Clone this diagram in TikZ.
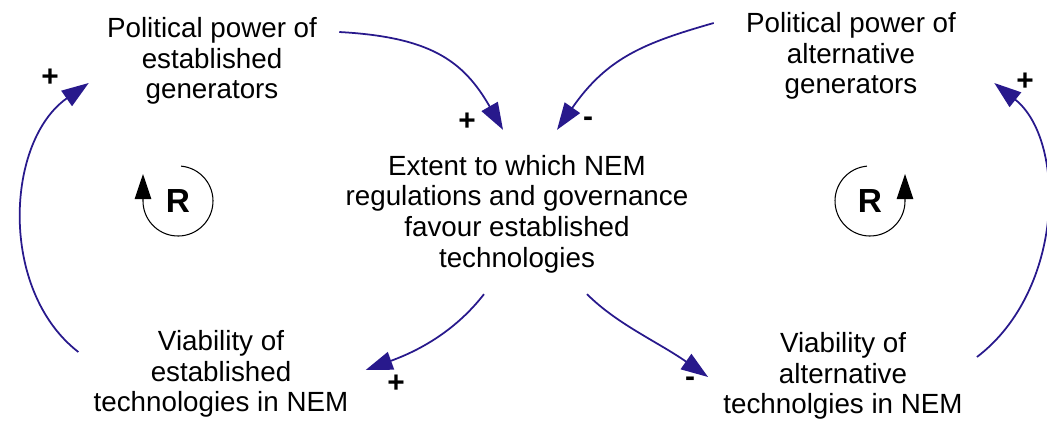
\documentclass[tikz,border=0pt]{standalone}
\usepackage{fontspec}
\setmainfont{Liberation Sans}
\usepackage{tikz}
\usetikzlibrary{arrows.meta,positioning,calc}

\definecolor{linkblue}{RGB}{40,25,140}

\tikzset{
    var/.style={align=center, inner sep=0pt, font=\fontsize{15.8}{17.4}\selectfont},
    link/.style={linkblue, line width=1pt, -{Triangle[length=0.54cm,width=0.37cm]}},
    polarity/.style={inner sep=0pt, font=\fontsize{17}{17}\selectfont\bfseries},
    loopsign/.style={inner sep=0pt, font=\fontsize{19}{19}\selectfont\bfseries},
    looparc/.style={line width=0.6pt, -{Triangle[length=0.5cm,width=0.33cm]}}
}

\begin{document}
\begin{tikzpicture}[x=0.02cm, y=-0.02cm]
    \useasboundingbox (0,0) rectangle (1047,420);

    % Variables
    \node[var] (estPower) at (212,61) {Political power of\\established\\generators};
    \node[var] (altPower) at (851,56) {Political power of\\alternative\\generators};
    \node[var] (extent) at (517,214) {Extent to which NEM\\regulations and governance\\favour established\\technologies};
    \node[var] (estViab) at (221,374) {Viability of\\established\\technologies in NEM};
    \node[var] (altViab) at (843,376) {Viability of\\alternative\\technolgies in NEM};

    % Links into the regulation variable
    \draw[link] ([shift={(22,-29)}]estPower.east) .. controls +(90,5) and +(-40,-70) .. ([shift={(-14,-25)}]extent.north);
    \draw[link] ([shift={(-32,-33)}]altPower.west) .. controls +(-70,20) and +(50,-72) .. ([shift={(40,-25)}]extent.north);

    % Links out of the regulation variable
    \draw[link] ([shift={(-33,21)}]extent.south) .. controls +(-28,36) and +(55,-20) .. ([shift={(17,-4)}]estViab.east);
    \draw[link] ([shift={(70,21)}]extent.south) .. controls +(30,30) and +(-50,-35) .. ([shift={(-15,1)}]altViab.west);

    % Feedback from viability to political power
    \draw[link] ([shift={(-15,-22)}]estViab.west) .. controls +(-80,-62) and +(-83,58) .. ([shift={(-18,22)}]estPower.west);
    \draw[link] ([shift={(14,-19)}]altViab.east) .. controls +(88,-67) and +(72,57) .. ([shift={(38,27)}]altPower.east);

    % Polarities
    \node[polarity] (polA) at (50,78) {+};
    \node[polarity] (polB) at (467,122) {+};
    \node[polarity] (polC) at (588,122) {-};
    \node[polarity] (polD) at (396,384) {+};
    \node[polarity] (polE) at (690,382) {-};
    \node[polarity] (polF) at (1025,82) {+};

    % Loop markers
    \node[loopsign] (loopEst) at (178,201) {R};
    \draw[looparc] (loopEst.center) ++(-85:35) arc[start angle=-85, end angle=180, radius=35] -- ++(0,-27);
    \node[loopsign] (loopAlt) at (870,201) {R};
    \draw[looparc] (loopAlt.center) ++(-95:35) arc[start angle=-95, end angle=-360, radius=35] -- ++(0,-27);

\end{tikzpicture}
\end{document}
